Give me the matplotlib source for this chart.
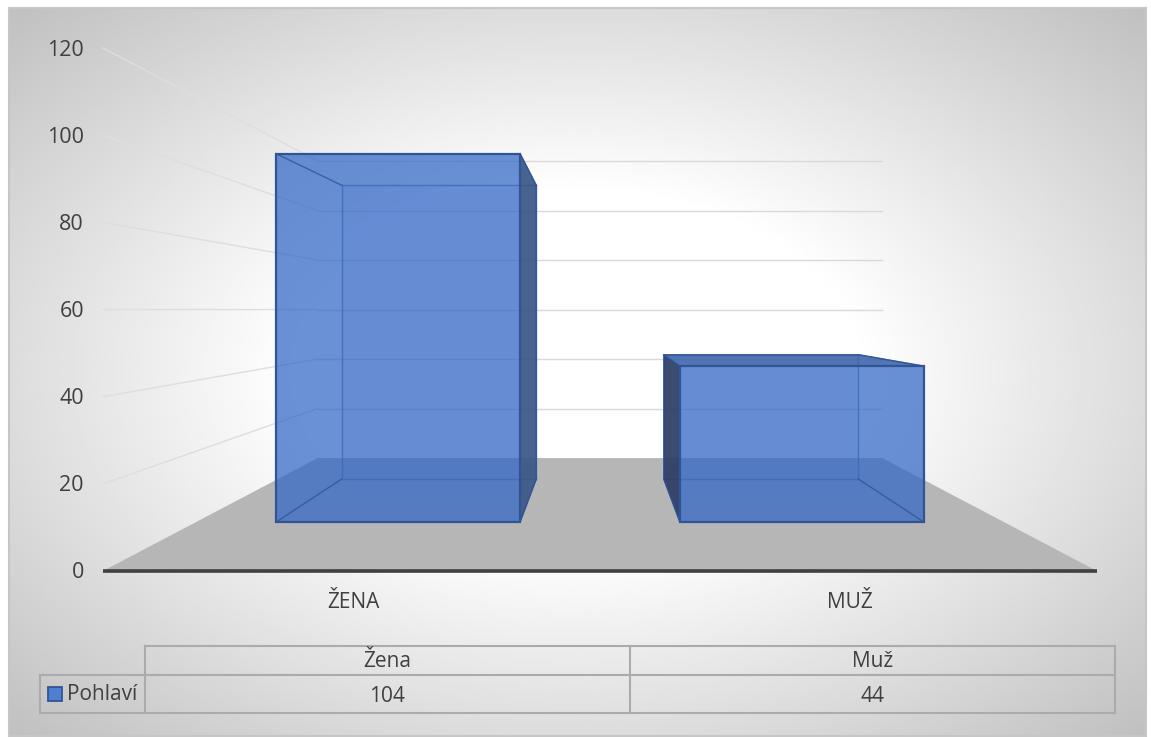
import numpy as np
import matplotlib
matplotlib.use("Agg")
import matplotlib.pyplot as plt
from matplotlib.patches import Polygon, Rectangle

# ---- data ----
axis_categories = ["ŽENA", "MUŽ"]
table_headers = ["Žena", "Muž"]
series_name = "Pohlaví"
series_values = [104, 44]
value_ticks = [0, 20, 40, 60, 80, 100, 120]

# ---- scene geometry (pixels) ----
W, H = 1151, 737
FRONT_L, FRONT_R, Y0, Y120 = 103, 1097, 571, 48
CX, CY = 600, 309.6
S_BACK, S_BAR_F, S_BAR_B = 0.568, 0.8125, 0.648
BAR_FRAC = 0.604
VMAX = value_ticks[-1]
cat_w = (FRONT_R - FRONT_L) / len(axis_categories)


def val_y(v):
    return Y0 + (Y120 - Y0) * v / VMAX


def proj(x, v, s):
    return (CX + (x - CX) * s, CY + (val_y(v) - CY) * s)


fig = plt.figure(figsize=(W / 100, H / 100), dpi=100)
plt.rcParams['font.family'] = ['Open Sans', 'DejaVu Sans']
ax = fig.add_axes([0, 0, 1, 1])
ax.set_xlim(0, W)
ax.set_ylim(H, 0)
ax.axis("off")

# chart background: radial grey-to-white fill inside the frame
FX0, FX1, FY0, FY1 = 9, 1146, 8, 736
gx, gy = np.meshgrid(np.linspace(FX0, FX1, 400), np.linspace(FY0, FY1, 260))
t = np.sqrt(((gx - 577) / 804) ** 2 + ((gy - 372) / 515) ** 2)
shade = 255 - 63 * np.clip((t - 0.35) / 0.65, 0, 1)
ax.imshow(shade, cmap="gray", vmin=0, vmax=255, extent=(FX0, FX1, FY1, FY0),
          aspect="auto", zorder=0, interpolation="bilinear")
ax.set_xlim(0, W)
ax.set_ylim(H, 0)
ax.add_patch(Rectangle((FX0, FY0), FX1 - FX0, FY1 - FY0, fill=False,
                       ec="#c6c6c6", lw=1.5, zorder=1))

# floor
floor = [proj(FRONT_L, 0, 1), proj(FRONT_R, 0, 1),
         proj(FRONT_R, 0, S_BACK), proj(FRONT_L, 0, S_BACK)]
ax.add_patch(Polygon(floor, closed=True, fc="#b6b6b6", ec="none", zorder=2))

# gridlines on left wall and back wall
for v in value_ticks[1:]:
    a, b, c = proj(FRONT_L, v, 1), proj(FRONT_L, v, S_BACK), proj(FRONT_R, v, S_BACK)
    ax.plot([a[0], b[0]], [a[1], b[1]], color="#dedede", lw=1.0, zorder=3)
    ax.plot([b[0], c[0]], [b[1], c[1]], color="#d9d9d9", lw=1.0, zorder=3)

# category axis line
ax.plot([FRONT_L, FRONT_R], [Y0, Y0], color="#404040", lw=2.6, zorder=4,
        solid_capstyle="butt")

# bars
EDGE = "#2f5597"
INNER = "#3d6cbc"
for i, v in enumerate(series_values):
    cx = FRONT_L + cat_w * (i + 0.5)
    bw = cat_w * BAR_FRAC
    xl, xr = cx - bw / 2, cx + bw / 2
    f = [proj(xl, 0, S_BAR_F), proj(xr, 0, S_BAR_F), proj(xr, v, S_BAR_F), proj(xl, v, S_BAR_F)]
    b = [proj(xl, 0, S_BAR_B), proj(xr, 0, S_BAR_B), proj(xr, v, S_BAR_B), proj(xl, v, S_BAR_B)]
    # back face
    ax.add_patch(Polygon(b, closed=True, fc="#2b62c4", alpha=0.05, ec="none", zorder=5))
    # front face
    ax.add_patch(Polygon(f, closed=True, fc="#3065c6", alpha=0.72, ec="none", zorder=8))
    # inner edges seen through the front
    for j, k in ((0, 1), (1, 2), (2, 3), (3, 0)):
        ax.plot([b[j][0], b[k][0]], [b[j][1], b[k][1]], color=INNER, lw=1.0, alpha=0.85, zorder=9)
    for j in range(4):
        ax.plot([f[j][0], b[j][0]], [f[j][1], b[j][1]], color=EDGE, lw=1.0, alpha=0.8, zorder=9)
    # outward-facing side
    if cx < CX:
        ax.add_patch(Polygon([f[1], b[1], b[2], f[2]], closed=True, fc="#3a5688",
                             alpha=0.92, ec=EDGE, lw=1, zorder=9.5))
    else:
        ax.add_patch(Polygon([f[0], b[0], b[3], f[3]], closed=True, fc="#2c3c64",
                             alpha=0.92, ec=EDGE, lw=1, zorder=9.5))
    # top face, seen only when below eye level
    if f[2][1] > b[2][1]:
        ax.add_patch(Polygon([f[3], f[2], b[2], b[3]], closed=True, fc="#3f66ab",
                             alpha=0.9, ec=EDGE, lw=1, zorder=9.5))
    ax.add_patch(Polygon(f, closed=True, fill=False, ec=EDGE, lw=1.6, zorder=10,
                         joinstyle="miter"))

TXT = "#404040"
FS = 15
# value tick labels
for v in value_ticks:
    ax.text(84, val_y(v) + 2, str(v), ha="right", va="center", fontsize=15.5, color=TXT, zorder=11)
# category labels
for i, c in enumerate(axis_categories):
    ax.text(FRONT_L + cat_w * (i + 0.5) + 1.5, 602, c, ha="center", va="center",
            fontsize=FS, color=TXT, zorder=11)

# data table
TL, TR, KL = 145, 1115, 40
T0, T1, T2 = 646, 675, 713
TC = "#ababab"
ncol = len(table_headers)
col_w = (TR - TL) / ncol
segs = [((TL, T0), (TR, T0)), ((KL, T1), (TR, T1)), ((KL, T2), (TR, T2)),
        ((KL, T1), (KL, T2)), ((TR, T0), (TR, T2))]
for i in range(ncol):
    segs.append(((TL + i * col_w, T0), (TL + i * col_w, T2)))
for p, q in segs:
    ax.plot([p[0], q[0]], [p[1], q[1]], color=TC, lw=1.5, zorder=3, solid_capstyle="projecting")
for i, (h, v) in enumerate(zip(table_headers, series_values)):
    xc = TL + (i + 0.5) * col_w
    ax.text(xc, 661.5, h, ha="center", va="center", fontsize=FS, color=TXT, zorder=11)
    ax.text(xc, 696, str(v), ha="center", va="center", fontsize=FS, color=TXT, zorder=11)
ax.add_patch(Rectangle((48, 687), 14, 14, fc="#4f7fd0", ec=EDGE, lw=1.3, zorder=11))
ax.text(67, 695, series_name, ha="left", va="center", fontsize=FS, color=TXT, zorder=11)

fig.savefig("out.png", dpi=100, facecolor="white")
